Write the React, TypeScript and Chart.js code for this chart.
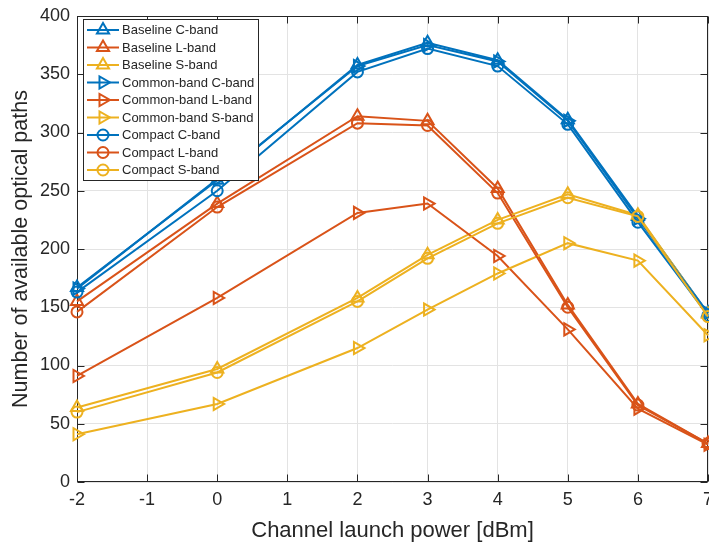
import React, { useEffect, useRef } from 'react';
import { Chart, registerables } from 'chart.js';

Chart.register(...registerables);

// ---------- data ----------
const xValues = [-2, 0, 2, 3, 4, 5, 6, 7];

const baselineC = [167, 259, 358, 377, 362, 311, 228, 145];
const baselineL = [155, 239, 314, 310, 252, 152, 67, 33];
const baselineS = [64, 97, 158, 195, 225, 247, 229, 144];
const commonC = [166, 260, 357, 375, 361, 310, 226, 145];
const commonL = [91, 158, 231, 239, 194, 131, 63, 32];
const commonS = [41, 67, 115, 148, 179, 205, 190, 126];
const compactC = [163, 250, 352, 372, 357, 307, 223, 143];
const compactL = [146, 236, 308, 306, 248, 150, 66, 33];
const compactS = [60, 94, 155, 192, 222, 244, 228, 142];

const seriesLabels = [
  'Baseline C-band',
  'Baseline L-band',
  'Baseline S-band',
  'Common-band C-band',
  'Common-band L-band',
  'Common-band S-band',
  'Compact C-band',
  'Compact L-band',
  'Compact S-band',
];

const xTitle = 'Channel launch power [dBm]';
const yTitle = 'Number of available optical paths';

// ---------- styles ----------
const BLUE = '#0072BD';
const ORANGE = '#D95319';
const YELLOW = '#EDB120';
const AXIS = '#262626';
const FONT = '"Liberation Sans", Arial, Helvetica, sans-serif';

type Marker = 'up' | 'right' | 'circle';

const seriesData = [baselineC, baselineL, baselineS, commonC, commonL, commonS, compactC, compactL, compactS];
const seriesColors = [BLUE, ORANGE, YELLOW, BLUE, ORANGE, YELLOW, BLUE, ORANGE, YELLOW];
const seriesMarkers: Marker[] = ['up', 'up', 'up', 'right', 'right', 'right', 'circle', 'circle', 'circle'];

function drawMarker(ctx: CanvasRenderingContext2D, m: Marker, x: number, y: number, color: string) {
  ctx.save();
  ctx.strokeStyle = color;
  ctx.lineWidth = 2;
  ctx.beginPath();
  if (m === 'circle') {
    ctx.arc(x, y, 5.5, 0, Math.PI * 2);
  } else {
    const r = 7;
    const rot = m === 'up' ? -Math.PI / 2 : 0;
    for (let k = 0; k < 3; k++) {
      const a = rot + (k * 2 * Math.PI) / 3;
      const px = x + Math.cos(a) * r;
      const py = y + Math.sin(a) * r;
      if (k === 0) ctx.moveTo(px, py);
      else ctx.lineTo(px, py);
    }
    ctx.closePath();
  }
  ctx.stroke();
  ctx.restore();
}

const boxPlugin = {
  id: 'matlabBox',
  beforeDatasetsDraw(chart: any) {
    const { ctx, chartArea } = chart;
    const { left, right, top, bottom } = chartArea;
    const L = Math.round(left) + 0.5;
    const R = Math.round(right) - 0.5;
    const T = Math.round(top) + 0.5;
    const B = Math.round(bottom) - 0.5;
    ctx.save();
    ctx.strokeStyle = AXIS;
    ctx.lineWidth = 1;
    ctx.strokeRect(L, T, R - L, B - T);
    const tl = 7;
    const xs = chart.scales.x;
    const ys = chart.scales.y;
    ctx.beginPath();
    xs.ticks.forEach((t: any) => {
      const px = Math.round(xs.getPixelForValue(t.value)) + 0.5;
      ctx.moveTo(px, B);
      ctx.lineTo(px, B - tl);
      ctx.moveTo(px, T);
      ctx.lineTo(px, T + tl);
    });
    ys.ticks.forEach((t: any) => {
      const py = Math.round(ys.getPixelForValue(t.value)) + 0.5;
      ctx.moveTo(L, py);
      ctx.lineTo(L + tl, py);
      ctx.moveTo(R, py);
      ctx.lineTo(R - tl, py);
    });
    ctx.stroke();
    ctx.restore();
  },
};

const legendPlugin = {
  id: 'matlabLegend',
  afterDraw(chart: any) {
    const { ctx, chartArea } = chart;
    const x0 = Math.round(chartArea.left) + 6;
    const y0 = Math.round(chartArea.top) + 3;
    const w = 175;
    const h = 161;
    ctx.save();
    ctx.fillStyle = '#ffffff';
    ctx.fillRect(x0, y0, w, h);
    ctx.strokeStyle = AXIS;
    ctx.lineWidth = 1;
    ctx.strokeRect(x0 + 0.5, y0 + 0.5, w, h);
    ctx.font = `13px ${FONT}`;
    ctx.textBaseline = 'middle';
    ctx.textAlign = 'left';
    seriesLabels.forEach((label, i) => {
      const cy = y0 + 11 + i * 17.5;
      const color = seriesColors[i];
      ctx.strokeStyle = color;
      ctx.lineWidth = 2;
      ctx.beginPath();
      ctx.moveTo(x0 + 4, cy);
      ctx.lineTo(x0 + 36, cy);
      ctx.stroke();
      drawMarker(ctx, seriesMarkers[i], x0 + 20, cy, color);
      ctx.fillStyle = AXIS;
      ctx.fillText(label, x0 + 39, cy + 0.5);
    });
    ctx.restore();
  },
};

export default function App() {
  const ref = useRef<HTMLCanvasElement | null>(null);

  useEffect(() => {
    if (!ref.current) return;
    const datasets = seriesLabels.map((label, i) => ({
      label,
      data: xValues.map((x, j) => ({ x, y: seriesData[i][j] })),
      borderColor: seriesColors[i],
      backgroundColor: 'rgba(0,0,0,0)',
      pointBackgroundColor: 'rgba(0,0,0,0)',
      pointBorderColor: seriesColors[i],
      borderWidth: 2,
      pointBorderWidth: 2,
      pointStyle: seriesMarkers[i] === 'circle' ? 'circle' : 'triangle',
      pointRotation: seriesMarkers[i] === 'right' ? 90 : 0,
      pointRadius: seriesMarkers[i] === 'circle' ? 5.5 : 7,
      tension: 0,
      fill: false,
      clip: false as any,
      order: seriesLabels.length - i,
    }));

    const chart = new Chart(ref.current, {
      type: 'line',
      data: { datasets },
      options: {
        responsive: false,
        animation: false,
        layout: { autoPadding: false, padding: { left: 0, right: 1, top: 16, bottom: 0 } },
        plugins: { legend: { display: false }, tooltip: { enabled: false } },
        scales: {
          x: {
            type: 'linear',
            min: -2,
            max: 7,
            ticks: {
              stepSize: 1,
              color: AXIS,
              font: { family: FONT, size: 18 },
              padding: 7,
              maxRotation: 0,
              autoSkip: false,
            },
            grid: { color: '#e3e3e3', lineWidth: 1, drawTicks: false },
            border: { display: false },
            title: {
              display: true,
              text: xTitle,
              color: AXIS,
              font: { family: FONT, size: 22 },
              padding: { top: 0, bottom: -2 },
            },
            afterFit(scale: any) {
              scale.height = 60;
              scale.paddingLeft = 0;
              scale.paddingRight = 0;
            },
          },
          y: {
            type: 'linear',
            min: 0,
            max: 400,
            ticks: {
              stepSize: 50,
              color: AXIS,
              font: { family: FONT, size: 18 },
              padding: 7,
            },
            grid: { color: '#e3e3e3', lineWidth: 1, drawTicks: false },
            border: { display: false },
            title: {
              display: true,
              text: yTitle,
              color: AXIS,
              font: { family: FONT, size: 21.5 },
              padding: { top: 8, bottom: 0 },
            },
            afterFit(scale: any) {
              scale.width = 77;
              scale.paddingTop = 0;
              scale.paddingBottom = 0;
            },
          },
        },
      },
      plugins: [boxPlugin, legendPlugin],
    } as any);
    return () => chart.destroy();
  }, []);

  return (
    <div style={{ position: 'absolute', left: 0, top: 0, width: 709, height: 542, background: '#fff' }}>
      <canvas ref={ref} width={709} height={542} style={{ display: 'block' }} />
    </div>
  );
}
